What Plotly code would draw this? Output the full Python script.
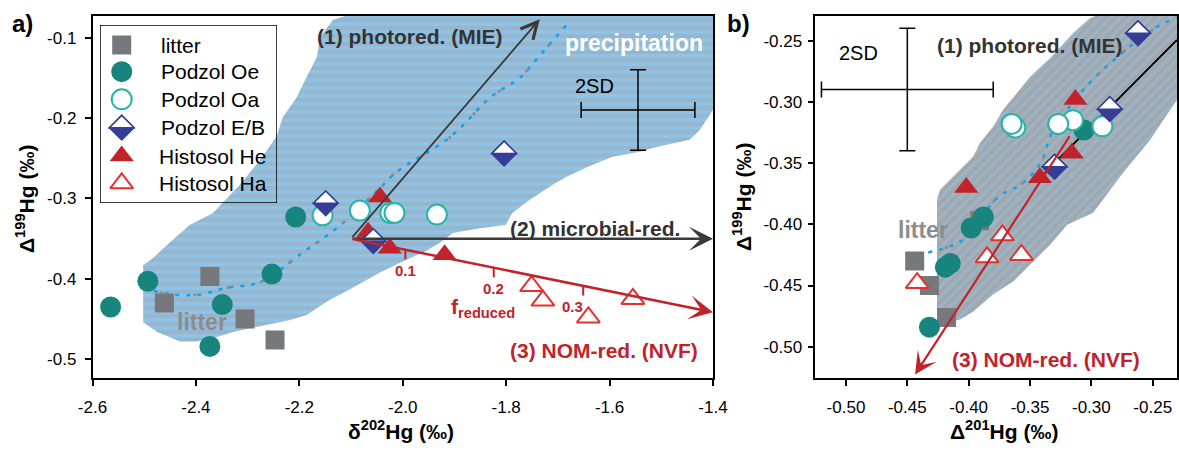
import plotly.graph_objects as go

W, H = 1179, 450
FONT = "Arial, Liberation Sans, sans-serif"

# ---------------- sample data (per mil) ----------------
# litter
litter_d202 = [-2.373, -2.461, -2.305, -2.247]
litter_D199 = [-0.397, -0.430, -0.450, -0.476]
litter_D201 = [-0.391, -0.444, -0.432, -0.418]
# Podzol Oe
oe_d202 = [-2.565, -2.493, -2.349, -2.373, -2.253, -2.207]
oe_D199 = [-0.435, -0.403, -0.432, -0.484, -0.394, -0.323]
oe_D201 = [-0.419, -0.398, -0.415, -0.432, -0.388, -0.306]
# Podzol Oa
oa_d202 = [-2.155, -2.083, -2.024, -2.016, -1.934]
oa_D199 = [-0.321, -0.315, -0.318, -0.318, -0.320]
oa_D201 = [-0.362, -0.315, -0.365, -0.327, -0.291]
# Podzol E/B
eb_d202 = [-2.149, -2.057, -1.804]
eb_D199 = [-0.306, -0.353, -0.244]
eb_D201 = [-0.285, -0.330, -0.262]
# Histosol He
he_d202 = [-2.044, -2.067, -2.025, -1.919]
he_D199 = [-0.298, -0.342, -0.362, -0.370]
he_D201 = [-0.313, -0.316, -0.342, -0.402]
# Histosol Ha
ha_d202 = [-1.751, -1.729, -1.641, -1.555]
ha_D199 = [-0.409, -0.427, -0.448, -0.425]
ha_D201 = [-0.3725, -0.385, -0.442, -0.357]

# precipitation envelope
env_a_d202 = [-2.112, -2.135, -2.160, -2.166, -2.186, -2.205, -2.232, -2.244, -2.276, -2.315,
              -2.367, -2.412, -2.456, -2.483, -2.502, -2.502, -2.475, -2.431, -2.398, -2.367,
              -2.328, -2.263, -2.218, -2.186, -2.141, -2.102, -2.044, -1.996, -1.954, -1.928,
              -1.903, -1.851, -1.801, -1.788, -1.755, -1.710, -1.683, -1.644, -1.594, -1.542,
              -1.509, -1.445, -1.426, -1.400, -1.400]
env_a_D199 = [-0.073, -0.078, -0.099, -0.124, -0.149, -0.174, -0.199, -0.223, -0.252, -0.283,
              -0.318, -0.333, -0.358, -0.374, -0.383, -0.454, -0.466, -0.478, -0.478, -0.474,
              -0.466, -0.457, -0.451, -0.445, -0.426, -0.413, -0.392, -0.377, -0.365, -0.355,
              -0.343, -0.337, -0.333, -0.318, -0.302, -0.283, -0.273, -0.261, -0.248, -0.242,
              -0.236, -0.227, -0.215, -0.190, -0.073]
env_b_D201 = [-0.2969, -0.3010, -0.3148, -0.3336, -0.3499, -0.3605, -0.3719, -0.3801, -0.3907,
              -0.3964, -0.4095, -0.4233, -0.4258, -0.4258, -0.4070, -0.3964, -0.3801, -0.3638,
              -0.3475, -0.3336, -0.3197, -0.2985, -0.2741, -0.2520, -0.2357, -0.2302, -0.2302]
env_b_D199 = [-0.2299, -0.2315, -0.2437, -0.2641, -0.2796, -0.2927, -0.3065, -0.3204, -0.3334,
              -0.3449, -0.3579, -0.3718, -0.3799, -0.4819, -0.4778, -0.4713, -0.4574, -0.4468,
              -0.4305, -0.4166, -0.4003, -0.3905, -0.3579, -0.3310, -0.3065, -0.2984, -0.2299]

# precipitation trend (dotted)
prec_a_d202 = [-2.502, -2.460, -2.398, -2.340, -2.276, -2.193, -2.122, -2.044, -2.012, -1.909,
               -1.828, -1.774, -1.735, -1.683]
prec_a_D199 = [-0.411, -0.418, -0.420, -0.411, -0.404, -0.367, -0.334, -0.287, -0.267, -0.224,
               -0.173, -0.150, -0.122, -0.084]
prec_b_D201 = [-0.433, -0.405, -0.385, -0.374, -0.358, -0.342, -0.332, -0.313, -0.293, -0.250, -0.2305]
prec_b_D199 = [-0.423, -0.413, -0.388, -0.376, -0.368, -0.351, -0.325, -0.298, -0.276, -0.241, -0.231]

# process vectors: [start, end]
mie_a_d202, mie_a_D199 = [-2.10, -1.735], [-0.35, -0.077]
mic_a_d202, mic_a_D199 = [-2.10, -1.40], [-0.35, -0.35]
nvf_a_d202, nvf_a_D199 = [-2.10, -1.40], [-0.35, -0.4416]
mie_b_D201, mie_b_D199 = [-0.338, -0.2302], [-0.358, -0.2494]
nvf_b_D201, nvf_b_D199 = [-0.317, -0.4437], [-0.327, -0.5227]

# reduced fraction marks along the NOM-reduction vector
f_reduced = [0.1, 0.2, 0.3]
f_d202 = [-1.995, -1.824, -1.651]

# analytical uncertainty (2SD)
sd_a = dict(x=-1.545, y=-0.19, ex=0.11, ey=0.05)
sd_b = dict(x=-0.45, y=-0.29, ex=0.07, ey=0.05)

# axis ticks
xa_vals = [-2.6, -2.4, -2.2, -2.0, -1.8, -1.6, -1.4]
xa_text = ["-2.6", "-2.4", "-2.2", "-2.0", "-1.8", "-1.6", "-1.4"]
ya_vals = [-0.5, -0.4, -0.3, -0.2, -0.1]
ya_text = ["-0.5", "-0.4", "-0.3", "-0.2", "-0.1"]
xb_vals = [-0.50, -0.45, -0.40, -0.35, -0.30, -0.25]
xb_text = ["-0.50", "-0.45", "-0.40", "-0.35", "-0.30", "-0.25"]
yb_vals = [-0.50, -0.45, -0.40, -0.35, -0.30, -0.25]
yb_text = ["-0.50", "-0.45", "-0.40", "-0.35", "-0.30", "-0.25"]

# ---------------- styles ----------------
NAVY = "#363d96"
RED = "#c1232b"
DARK = "#3a3a3a"
BLUE_FILL = "#8cc4ea"
GRAY_FILL = "#a5a6a9"

styles = {
    "litter": dict(symbol="square", size=19, color="#77787c", line=dict(width=0)),
    "Podzol Oe": dict(symbol="circle", size=21, color="#17847e", line=dict(width=0)),
    "Podzol Oa": dict(symbol="circle", size=20, color="white", line=dict(color="#27b4a9", width=2)),
    "Podzol E/B": dict(symbol="diamond", size=19, color=NAVY, line=dict(color=NAVY, width=1.5)),
    "Histosol He": dict(symbol="triangle-up", size=21, color=RED, line=dict(width=0)),
    "Histosol Ha": dict(symbol="triangle-up", size=20, color="white", line=dict(color="#e3312f", width=2)),
}
groups = [
    ("litter", litter_d202, litter_D201, litter_D199),
    ("Podzol Oe", oe_d202, oe_D201, oe_D199),
    ("Podzol Oa", oa_d202, oa_D201, oa_D199),
    ("Podzol E/B", eb_d202, eb_D201, eb_D199),
    ("Histosol He", he_d202, he_D201, he_D199),
    ("Histosol Ha", ha_d202, ha_D201, ha_D199),
]

fig = go.Figure()

# precipitation envelopes (hatched)
fig.add_trace(go.Scatter(x=env_a_d202, y=env_a_D199, xaxis="x", yaxis="y", mode="lines",
                         fill="toself", fillcolor=BLUE_FILL, line=dict(width=0),
                         fillpattern=dict(shape="-", bgcolor=BLUE_FILL, fgcolor=GRAY_FILL,
                                          size=8, solidity=0.55),
                         hoverinfo="skip", showlegend=False))
fig.add_trace(go.Scatter(x=env_b_D201, y=env_b_D199, xaxis="x2", yaxis="y2", mode="lines",
                         fill="toself", fillcolor=GRAY_FILL, line=dict(width=0),
                         fillpattern=dict(shape="/", bgcolor=GRAY_FILL, fgcolor=BLUE_FILL,
                                          size=7, solidity=0.5),
                         hoverinfo="skip", showlegend=False))

# dotted precipitation trends (blue dashes with sparse gray dots)
for xs, ys, xa, ya in [(prec_a_d202, prec_a_D199, "x", "y"), (prec_b_D201, prec_b_D199, "x2", "y2")]:
    fig.add_trace(go.Scatter(x=xs, y=ys, xaxis=xa, yaxis=ya, mode="lines",
                             line=dict(color="#1f9fe0", width=2.5, dash="4px,7px", shape="spline"),
                             hoverinfo="skip", showlegend=False))
    fig.add_trace(go.Scatter(x=xs, y=ys, xaxis=xa, yaxis=ya, mode="lines",
                             line=dict(color="#8a8b8e", width=2.5, dash="0px,17px,3px,14px",
                                       shape="spline"),
                             hoverinfo="skip", showlegend=False))

# 2SD crosses
for sd, xa, ya in [(sd_a, "x", "y"), (sd_b, "x2", "y2")]:
    fig.add_trace(go.Scatter(x=[sd["x"]], y=[sd["y"]], xaxis=xa, yaxis=ya, mode="markers",
                             marker=dict(size=1, color="black"),
                             error_x=dict(type="constant", value=sd["ex"], color="black", thickness=1.5, width=8),
                             error_y=dict(type="constant", value=sd["ey"], color="black", thickness=1.5, width=8),
                             hoverinfo="skip", showlegend=False))

# panel b photoreduction line
fig.add_trace(go.Scatter(x=mie_b_D201, y=mie_b_D199, xaxis="x2", yaxis="y2", mode="lines",
                         line=dict(color="black", width=2), hoverinfo="skip", showlegend=False))


def on_line(xv, xs, ys):
    t = (xv - xs[0]) / (xs[1] - xs[0])
    return ys[0] + t * (ys[1] - ys[0])

# f_reduced tick marks hanging below the NOM vector
f_line_y = [on_line(v, nvf_a_d202, nvf_a_D199) for v in f_d202]
tick_x, tick_y = [], []
for xv, yv in zip(f_d202, f_line_y):
    tick_x += [xv, xv, None]
    tick_y += [yv, yv - 0.012, None]
fig.add_trace(go.Scatter(x=tick_x, y=tick_y, xaxis="x", yaxis="y", mode="lines",
                         line=dict(color=RED, width=2), hoverinfo="skip", showlegend=False))

# samples in both panels
for name, d202, D201, D199 in groups:
    st = styles[name]
    mk = dict(symbol=st["symbol"], size=st["size"], color=st["color"], line=st["line"])
    fig.add_trace(go.Scatter(x=d202, y=D199, xaxis="x", yaxis="y", mode="markers",
                             marker=mk, name=name, showlegend=False))
    fig.add_trace(go.Scatter(x=D201, y=D199, xaxis="x2", yaxis="y2", mode="markers",
                             marker=mk, name=name, showlegend=False))

# legend drawn in its own small frame
leg_rows = [20, 46.7, 74.3, 102.7, 131, 158.3]
leg_text_x = [59, 59, 59, 59, 57, 57]
for (name, *_), ry in zip(groups, leg_rows):
    st = styles[name]
    fig.add_trace(go.Scatter(x=[21.7], y=[ry], xaxis="x3", yaxis="y3", mode="markers",
                             marker=dict(symbol=st["symbol"], size=st["size"], color=st["color"],
                                         line=st["line"]),
                             hoverinfo="skip", showlegend=False))

annotations = []
shapes = []

for (name, *_), ry, tx in zip(groups, leg_rows, leg_text_x):
    annotations.append(dict(x=tx, y=ry, xref="x3", yref="y3", text=name, showarrow=False,
                            xanchor="left", yanchor="middle",
                            font=dict(size=21, color="black", family=FONT)))
shapes.append(dict(type="rect", xref="x3", yref="y3", x0=0, x1=177, y0=0, y1=178,
                   line=dict(color="black", width=1.5), layer="above"))

# white upper half of the E/B diamonds
half = 1.3 * styles["Podzol E/B"]["size"] / 2
half_path = f"M{-half},0 L0,{half} L{half},0 Z"
eb_points = ([(x, y, "x", "y") for x, y in zip(eb_d202, eb_D199)] +
             [(x, y, "x2", "y2") for x, y in zip(eb_D201, eb_D199)] +
             [(21.7, leg_rows[3], "x3", "y3")])
for x, y, xr, yr in eb_points:
    shapes.append(dict(type="path", xref=xr, yref=yr, xsizemode="pixel", ysizemode="pixel",
                       xanchor=x, yanchor=y, path=half_path, fillcolor="white",
                       line=dict(color=NAVY, width=1.5), layer="above"))


def arrow(xs, ys, xr, yr, color, width, head, size):
    return dict(x=xs[1], y=ys[1], ax=xs[0], ay=ys[0], xref=xr, yref=yr, axref=xr, ayref=yr,
                text="", showarrow=True, arrowhead=head, arrowsize=size, arrowwidth=width,
                arrowcolor=color, standoff=0, startstandoff=0)

annotations.append(arrow(mie_a_d202, mie_a_D199, "x", "y", DARK, 1.8, 5, 1.8))
annotations.append(arrow(mic_a_d202, mic_a_D199, "x", "y", DARK, 2.5, 3, 1.6))
annotations.append(arrow(nvf_a_d202, nvf_a_D199, "x", "y", RED, 2.5, 3, 1.6))
annotations.append(arrow(nvf_b_D201, nvf_b_D199, "x2", "y2", RED, 2.2, 3, 1.7))

for i, (fv, xv, yv) in enumerate(zip(f_reduced, f_d202, f_line_y)):
    annotations.append(dict(x=xv, y=yv, xref="x", yref="y", text=f"{fv:.1f}", showarrow=False,
                            yshift=-21, xshift=(-11 if i == 2 else 0),
                            xanchor="center", yanchor="middle",
                            font=dict(size=15, color=RED, family=FONT, weight="bold")))


def label(text, x, y, xr, yr, size, color, bold=True, **kw):
    d = dict(x=x, y=y, xref=xr, yref=yr, text=text, showarrow=False,
             xanchor="center", yanchor="middle",
             font=dict(size=size, color=color, family=FONT, weight=("bold" if bold else "normal")))
    d.update(kw)
    return d

annotations += [
    label("(1) photored. (MIE)", -1.9865, -0.098, "x", "y", 21, "#333333"),
    label("precipitation", -1.552, -0.1066, "x", "y", 23, "white"),
    label("2SD", -1.629, -0.160, "x", "y", 20, "black", bold=False),
    label("(2) microbial-red.", -1.629, -0.337, "x", "y", 21, "#333333"),
    label("(3) NOM-red. (NVF)", -1.610, -0.4886, "x", "y", 21, RED),
    label("litter", -2.388, -0.4537, "x", "y", 23, "#8c8c8e"),
    label("f<sub>reduced</sub>", -1.911, -0.4362, "x", "y", 21, RED, xanchor="left"),
    label("2SD", -0.4902, -0.2600, "x2", "y2", 20, "black", bold=False),
    label("(1) photored. (MIE)", -0.3507, -0.2543, "x2", "y2", 21, "#333333"),
    label("litter", -0.4372, -0.4044, "x2", "y2", 23, "#8c8c8e"),
    label("(3) NOM-red. (NVF)", -0.3369, -0.5104, "x2", "y2", 21, RED),
    # panel letters and axis titles
    label("a)", 22 / W, 1 - 23 / H, "paper", "paper", 24, "black"),
    label("b)", 738 / W, 1 - 23 / H, "paper", "paper", 24, "black"),
    label("δ<sup>202</sup>Hg (‰)", 401 / W, 1 - 430 / H, "paper", "paper", 21, "black"),
    label("Δ<sup>201</sup>Hg (‰)", 1004 / W, 1 - 430 / H, "paper", "paper", 21, "black"),
    label("Δ<sup>199</sup>Hg (‰)", 25 / W, 1 - 199 / H, "paper", "paper", 21, "black", textangle=-90),
    label("Δ<sup>199</sup>Hg (‰)", 742 / W, 1 - 197 / H, "paper", "paper", 21, "black", textangle=-90),
]

axis_common = dict(showline=True, linecolor="black", linewidth=1.5, mirror=True,
                   ticks="outside", ticklen=6, tickwidth=1.5, tickcolor="black",
                   showgrid=False, zeroline=False, fixedrange=True, automargin=False,
                   tickfont=dict(size=17, color="black", family=FONT))

fig.update_layout(
    width=W, height=H, autosize=False,
    margin=dict(l=0, r=0, t=0, b=0, pad=0, autoexpand=False),
    paper_bgcolor="white", plot_bgcolor="rgba(0,0,0,0)",
    showlegend=False,
    font=dict(family=FONT, color="black"),
    xaxis=dict(domain=[92.5 / W, 713 / W], range=[-2.6, -1.4], anchor="y",
               tickvals=xa_vals, ticktext=xa_text, ticklabelstandoff=7, **axis_common),
    yaxis=dict(domain=[1 - 378 / H, 1 - 16 / H], range=[-0.5233, -0.073], anchor="x",
               tickvals=ya_vals, ticktext=ya_text, ticklabelstandoff=5, **axis_common),
    xaxis2=dict(domain=[815.3 / W, 1177 / W], range=[-0.525, -0.2302], anchor="y2",
                tickvals=xb_vals, ticktext=xb_text, ticklabelstandoff=7, **axis_common),
    yaxis2=dict(domain=[1 - 378 / H, 1 - 16 / H], range=[-0.5255, -0.2299], anchor="x2",
                tickvals=yb_vals, ticktext=yb_text, ticklabelstandoff=2, **axis_common),
    xaxis3=dict(domain=[100 / W, 277 / W], range=[0, 177], anchor="y3", visible=False,
                fixedrange=True),
    yaxis3=dict(domain=[1 - 203 / H, 1 - 25 / H], range=[178, 0], anchor="x3", visible=False,
                fixedrange=True),
    annotations=annotations,
    shapes=shapes,
)

fig.write_html("out.html")
